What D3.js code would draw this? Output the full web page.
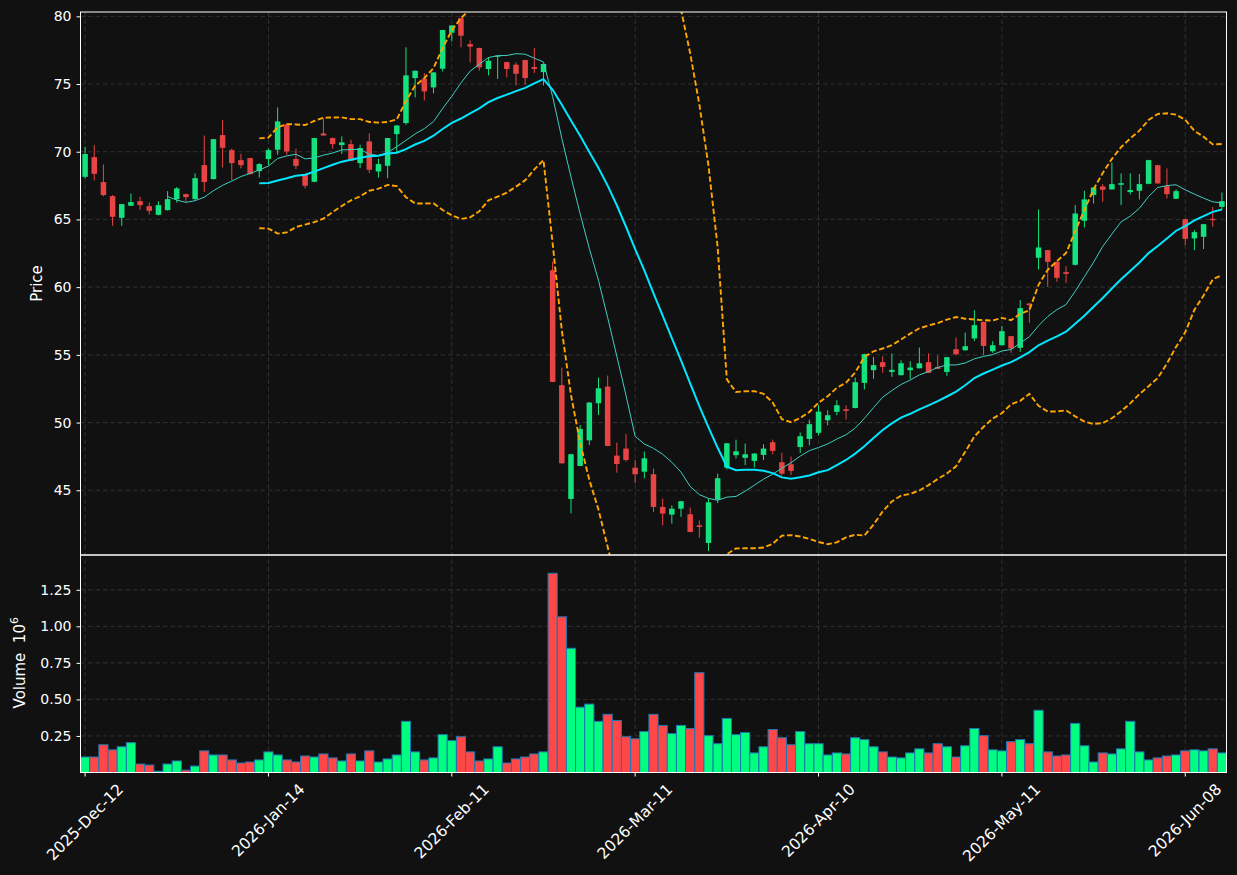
<!DOCTYPE html>
<html><head><meta charset="utf-8">
<script src="https://cdn.jsdelivr.net/npm/d3@7"></script>
<style>body{margin:0;background:#111111;} svg{display:block;}</style>
</head><body><svg id="chart" width="1237" height="875"></svg>
<script>
const opens = [68.15,69.6,67.76,66.72,65.12,66.01,66.35,65.98,65.34,65.69,66.5,66.87,66.5,69.01,67.98,71.23,70.12,69.38,69.53,68.57,
69.46,70.15,72.02,69.46,68.3,67.78,71.35,71.01,70.49,70.56,69.16,70.76,68.54,68.96,71.3,72.12,75.44,75.39,74.75,76.13,
78.79,79.87,77.95,77.66,76.11,77.02,76.62,76.43,76.77,76.25,75.88,61.25,52.76,44.36,46.8,48.69,51.43,52.66,47.56,48.08,
46.67,46.37,46.18,43.77,43.2,43.64,43.23,42.41,41.11,44.31,46.67,47.59,47.39,47.17,47.61,48.55,47.07,46.92,48.2,48.79,
49.24,50.17,50.79,50.98,51.08,52.93,53.87,54.46,53.74,53.5,53.87,54.01,54.46,54.11,53.74,55.42,55.34,56.21,57.44,55.27,
55.71,56.38,55.52,58.79,62.17,62.73,61.87,61.11,61.65,64.9,66.8,67.44,67.22,67.56,67.02,67.12,67.63,69.01,67.46,66.53,
65.02,63.6,63.72,65.05,65.93];
const highs = [70.37,70.49,69.06,66.8,66.13,66.92,66.67,66.25,66.35,67.09,67.39,66.9,68.4,71.2,70.95,72.34,70.24,69.85,69.56,69.16,
70.24,73.27,72.05,70.22,68.35,71.03,72.48,71.05,71.13,70.88,70.52,71.35,69.48,71.03,71.96,77.71,76.0,75.81,75.88,79.0,
79.35,79.9,78.22,77.68,76.97,77.1,76.65,76.6,76.8,77.66,76.5,61.89,54.06,47.7,49.82,51.5,53.32,53.47,48.52,49.16,
47.24,47.86,46.6,44.38,43.89,44.21,43.72,42.78,44.38,46.23,48.5,48.74,48.45,47.75,48.4,48.74,47.78,47.49,49.26,50.22,
51.28,50.91,51.65,51.28,53.33,55.08,54.85,54.9,55.1,54.6,54.53,55.54,55.1,54.95,54.85,56.28,56.65,58.3,57.46,56.01,
57.14,56.4,59.04,58.85,65.74,62.75,61.9,61.55,66.06,67.12,67.38,67.61,69.19,68.4,68.4,68.35,69.4,69.03,68.77,67.22,
65.05,64.21,64.67,65.93,66.99];
const lows = [68.03,67.88,66.7,64.53,64.53,66.0,65.71,65.37,65.3,65.65,66.25,66.3,66.45,67.04,67.95,68.84,67.9,68.77,68.33,68.1,
69.01,69.78,69.78,68.72,67.29,67.75,71.18,70.22,69.83,69.3,68.79,68.42,68.1,68.05,69.9,71.99,74.01,73.79,74.31,75.93,
78.15,77.71,76.6,75.98,75.64,75.37,75.49,74.9,74.95,75.81,74.9,52.98,46.97,43.3,46.78,48.35,50.56,48.25,46.3,47.11,
45.52,45.89,43.4,42.41,42.54,43.03,41.9,41.5,40.52,44.06,46.53,47.34,46.85,46.68,47.22,47.66,46.08,46.11,47.76,48.32,
49.06,49.8,50.54,50.22,51.05,52.44,53.23,53.67,53.37,53.48,53.2,54.0,53.65,53.95,53.45,54.95,55.3,56.03,54.97,55.15,
55.7,55.15,55.22,57.36,61.3,60.02,60.39,60.32,61.6,64.41,66.18,66.3,67.2,66.06,66.85,66.48,67.6,67.64,66.55,66.5,
63.1,62.73,62.81,64.46,65.74];
const closes = [69.83,68.37,66.8,65.2,66.13,66.28,66.06,65.64,66.06,66.5,67.29,66.65,68.05,67.76,70.93,70.29,69.16,69.01,68.35,69.09,
70.12,72.24,70.02,68.96,67.49,71.01,71.2,70.56,70.69,69.33,70.27,68.67,69.09,71.01,71.94,75.64,75.98,74.46,75.86,78.99,
79.33,78.57,77.76,76.23,76.72,77.09,76.11,75.76,75.44,76.11,76.48,53.0,46.99,47.66,49.53,51.48,52.53,48.27,46.94,47.24,
46.18,47.36,43.77,43.28,43.64,44.19,41.92,42.29,44.11,45.89,48.47,47.88,47.66,47.71,48.08,47.91,46.23,46.43,48.99,49.88,
50.81,50.54,51.28,50.86,52.98,55.05,54.24,54.11,53.89,54.38,54.06,54.38,53.67,53.97,54.83,55.05,55.64,57.19,55.66,55.71,
56.75,55.47,58.45,58.67,62.93,61.87,60.69,60.98,65.44,66.48,67.36,67.19,67.61,67.68,67.17,67.61,69.38,67.66,66.87,67.09,
63.57,64.06,64.65,64.95,66.35];
const volumes = [0.106,0.106,0.19,0.155,0.176,0.204,0.058,0.051,0.009,0.058,0.079,0.016,0.044,0.148,0.12,0.12,0.086,0.065,0.072,0.086,
0.141,0.12,0.086,0.072,0.113,0.106,0.127,0.1,0.079,0.127,0.079,0.148,0.072,0.093,0.12,0.35,0.141,0.086,0.1,0.259,
0.218,0.245,0.141,0.079,0.093,0.176,0.065,0.093,0.106,0.127,0.141,1.363,1.065,0.85,0.447,0.468,0.35,0.398,0.356,0.245,
0.231,0.28,0.398,0.322,0.266,0.322,0.301,0.683,0.252,0.197,0.37,0.259,0.273,0.134,0.176,0.294,0.238,0.19,0.28,0.197,
0.197,0.12,0.134,0.127,0.238,0.225,0.176,0.141,0.106,0.1,0.134,0.162,0.134,0.197,0.176,0.106,0.183,0.301,0.252,0.155,
0.148,0.211,0.225,0.197,0.426,0.141,0.113,0.12,0.336,0.183,0.072,0.134,0.127,0.162,0.35,0.141,0.086,0.1,0.113,0.12,
0.148,0.155,0.148,0.162,0.134];
const xTickIndex = [0,20,40,60,80,100,120];
const xTickLabels = ["2025-Dec-12","2026-Jan-14","2026-Feb-11","2026-Mar-11","2026-Apr-10","2026-May-11","2026-Jun-08"];
const priceTicks = [45,50,55,60,65,70,75,80];
const volumeTicks = [0.25,0.5,0.75,1.0,1.25];
const maShortPeriod = 10, maLongPeriod = 20, bandStd = 2;

const svg = d3.select("#chart");
const W = 1237, H = 875;
const L = 80.5, R = 1226.5;
const pTop = 12, pBot = 555, vTop = 555, vBot = 772.5;
const FONT = "'DejaVu Sans', sans-serif";
const gridColor = "#3a3a3a";
const upC = "#14e27e", dnC = "#e84444";
const upV = "#00ff80", dnV = "#ff4747";

svg.append("rect").attr("width", W).attr("height", H).attr("fill", "#111111");

const n = closes.length;
const idx = d3.range(n);
const x = d3.scaleBand().domain(idx).range([L, R]).padding(0);
const bw = x.bandwidth();
const cx = i => x(i) + bw / 2;
const yP = d3.scaleLinear().domain([40.22, 80.32]).range([pBot, pTop]);
const yV = d3.scaleLinear().domain([0, 1.488]).range([vBot, vTop]);

function rollMean(arr, p) { return arr.map((_, i) => i < p - 1 ? null : d3.mean(arr.slice(i - p + 1, i + 1))); }
function rollStd(arr, p) { return arr.map((_, i) => i < p - 1 ? null : d3.deviation(arr.slice(i - p + 1, i + 1))); }
const maS = rollMean(closes, maShortPeriod);
const maL = rollMean(closes, maLongPeriod);
const sd = rollStd(closes, maLongPeriod);
const upper = maL.map((m, i) => m == null ? null : m + bandStd * sd[i]);
const lower = maL.map((m, i) => m == null ? null : m - bandStd * sd[i]);

const defs = svg.append("defs");
defs.append("clipPath").attr("id", "clipP").append("rect").attr("x", L).attr("y", pTop).attr("width", R - L).attr("height", pBot - pTop);
defs.append("clipPath").attr("id", "clipV").append("rect").attr("x", L).attr("y", vTop).attr("width", R - L).attr("height", vBot - vTop);

const grid = svg.append("g");
grid.selectAll(".hg").data(priceTicks).enter().append("line")
  .attr("x1", L).attr("x2", R).attr("y1", d => yP(d)).attr("y2", d => yP(d))
  .attr("stroke", gridColor).attr("stroke-width", 0.8).attr("stroke-dasharray", "4.5,3");
grid.selectAll(".hv").data(volumeTicks).enter().append("line")
  .attr("x1", L).attr("x2", R).attr("y1", d => yV(d)).attr("y2", d => yV(d))
  .attr("stroke", gridColor).attr("stroke-width", 0.8).attr("stroke-dasharray", "4.5,3");
grid.selectAll(".vg").data(xTickIndex).enter().append("line")
  .attr("x1", d => cx(d)).attr("x2", d => cx(d)).attr("y1", pTop).attr("y2", vBot)
  .attr("stroke", gridColor).attr("stroke-width", 0.8).attr("stroke-dasharray", "4.5,3");

const pg = svg.append("g").attr("clip-path", "url(#clipP)");
const bodyW = bw * 0.6;
const cg = pg.selectAll(".c").data(idx).enter().append("g");
cg.append("line").attr("x1", i => cx(i)).attr("x2", i => cx(i))
  .attr("y1", i => yP(highs[i])).attr("y2", i => yP(lows[i]))
  .attr("stroke", i => closes[i] >= opens[i] ? upC : dnC).attr("stroke-width", 1);
cg.append("rect").attr("x", i => cx(i) - bodyW / 2).attr("width", bodyW)
  .attr("y", i => yP(Math.max(opens[i], closes[i])))
  .attr("height", i => Math.max(1, yP(Math.min(opens[i], closes[i])) - yP(Math.max(opens[i], closes[i]))))
  .attr("fill", i => closes[i] >= opens[i] ? upC : dnC);

const lineGen = arr => d3.line().defined(i => arr[i] != null).x(i => cx(i)).y(i => yP(arr[i]))(idx);
pg.append("path").attr("d", lineGen(upper)).attr("fill", "none").attr("stroke", "#ffa500").attr("stroke-width", 1.9).attr("stroke-dasharray", "5.5,2.6");
pg.append("path").attr("d", lineGen(lower)).attr("fill", "none").attr("stroke", "#ffa500").attr("stroke-width", 1.9).attr("stroke-dasharray", "5.5,2.6");
pg.append("path").attr("d", lineGen(maS)).attr("fill", "none").attr("stroke", "#3fcfc2").attr("stroke-width", 1);
pg.append("path").attr("d", lineGen(maL)).attr("fill", "none").attr("stroke", "#00e8ff").attr("stroke-width", 2);

const vg = svg.append("g").attr("clip-path", "url(#clipV)");
vg.selectAll(".v").data(idx).enter().append("rect")
  .attr("x", i => x(i)).attr("width", bw)
  .attr("y", i => yV(volumes[i])).attr("height", i => yV(0) - yV(volumes[i]))
  .attr("fill", i => closes[i] >= opens[i] ? upV : dnV)
  .attr("stroke", "#1f77b4").attr("stroke-width", 1);

svg.append("rect").attr("x", L).attr("y", pTop).attr("width", R - L).attr("height", pBot - pTop).attr("fill", "none").attr("stroke", "#ffffff").attr("stroke-width", 1);
svg.append("rect").attr("x", L).attr("y", vTop).attr("width", R - L).attr("height", vBot - vTop).attr("fill", "none").attr("stroke", "#ffffff").attr("stroke-width", 1);

function styleAxis(g) {
  g.select(".domain").remove();
  g.selectAll(".tick line").attr("stroke", "#ffffff");
  g.selectAll(".tick text").attr("fill", "#ffffff").style("font-family", FONT).style("font-size", "14px");
}
svg.append("g").attr("transform", `translate(${L},0)`)
  .call(d3.axisLeft(yP).tickValues(priceTicks).tickFormat(d3.format("d")).tickSize(4).tickPadding(5)).call(styleAxis);
svg.append("g").attr("transform", `translate(${L},0)`)
  .call(d3.axisLeft(yV).tickValues(volumeTicks).tickFormat(d3.format(".2f")).tickSize(4).tickPadding(5)).call(styleAxis);

const xa = svg.append("g");
xa.selectAll("line").data(xTickIndex).enter().append("line")
  .attr("x1", d => cx(d)).attr("x2", d => cx(d)).attr("y1", vBot).attr("y2", vBot + 4).attr("stroke", "#fff");
xa.selectAll("text").data(xTickIndex).enter().append("text")
  .text((d, k) => xTickLabels[k])
  .attr("fill", "#fff").style("font-family", FONT).style("font-size", "15.5px")
  .attr("text-anchor", "middle").attr("dominant-baseline", "central")
  .each(function (d) {
    const len = this.getComputedTextLength();
    const hh = (len + 15) * Math.SQRT1_2;
    d3.select(this).attr("transform", `translate(${cx(d)},${vBot + 9 + hh / 2}) rotate(-45)`);
  });

svg.append("text").text("Price").attr("fill", "#fff").style("font-family", FONT).style("font-size", "15px")
  .attr("text-anchor", "middle").attr("transform", `translate(42,${(pTop + pBot) / 2}) rotate(-90)`);
const vl = svg.append("text").attr("fill", "#fff").style("font-family", FONT).style("font-size", "15px")
  .attr("text-anchor", "middle").attr("transform", `translate(25,${(vTop + vBot) / 2 - 1}) rotate(-90)`);
vl.append("tspan").text("Volume\u00a0\u00a010");
vl.append("tspan").text("6").attr("dy", -7).style("font-size", "11px");
</script></body></html>
